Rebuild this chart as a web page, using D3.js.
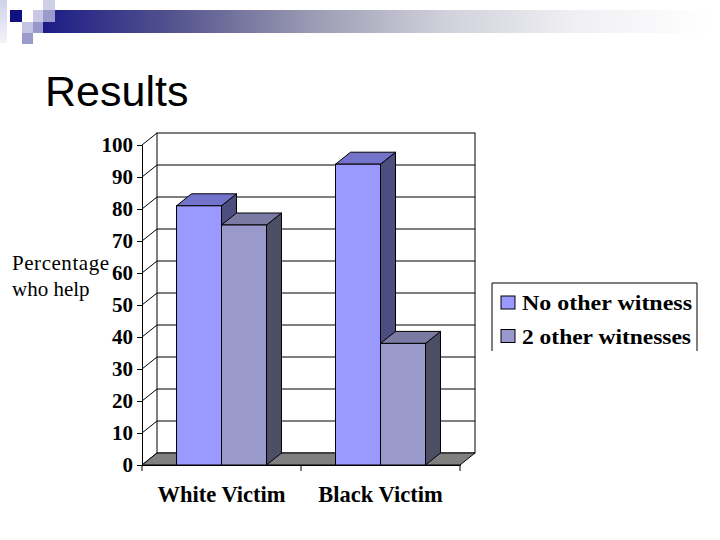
<!DOCTYPE html>
<html>
<head>
<meta charset="utf-8">
<script src="https://cdn.jsdelivr.net/npm/d3@7"></script>
<style>
  html, body { margin: 0; padding: 0; background: #fff; }
  svg { display: block; }
</style>
</head>
<body>
<svg id="chart" width="720" height="540"></svg>
<script>
// ---- data ----
const categories = ["White Victim", "Black Victim"];
const seriesNames = ["No other witness", "2 other witnesses"];
const noOtherWitness = [81, 94];
const twoOtherWitnesses = [75, 38];
const yTicks = [0, 10, 20, 30, 40, 50, 60, 70, 80, 90, 100];
const seriesValues = [noOtherWitness, twoOtherWitnesses];

// ---- styles ----
const frontColors = ["#9999FF", "#9999CC"];
const topColors = ["#7373CC", "#7A7AA3"];
const sideColors = ["#4D4D80", "#4D4D66"];
const serif = "'Liberation Serif', 'Times New Roman', serif";

const svg = d3.select("#chart");

// ---- header decoration ----
const defs = svg.append("defs");
const grad = defs.append("linearGradient").attr("id", "hdr").attr("x1", "0%").attr("x2", "100%");
[[0, "#1c1c86"], [0.2, "#55558f"], [0.4, "#9a9ab3"], [0.6, "#d0d0db"], [0.8, "#f0f0f4"], [1, "#ffffff"]]
  .forEach(([o, c]) => grad.append("stop").attr("offset", o).attr("stop-color", c));
svg.append("rect").attr("x", 43).attr("y", 10).attr("width", 668).attr("height", 23).attr("fill", "url(#hdr)");
const vgrad = defs.append("linearGradient").attr("id", "vfade").attr("x1", "0").attr("x2", "0").attr("y1", "0").attr("y2", "1");
vgrad.append("stop").attr("offset", 0).attr("stop-color", "#d0d0ec");
vgrad.append("stop").attr("offset", 1).attr("stop-color", "#f4f4fa");
svg.append("rect").attr("x", 0).attr("y", 0).attr("width", 7).attr("height", 43).attr("fill", "url(#vfade)");
[
  [10, 10, 12, 12, "#10107f"],
  [33, 10, 10, 12, "#c8c8e6"],
  [43, 0, 12, 10, "#cfcfe8"],
  [43, 10, 12, 12, "#9a9acc"],
  [22, 22, 11, 11, "#c4c4e4"],
  [33, 22, 10, 11, "#9898cc"],
  [22, 33, 11, 11, "#9a9acc"]
].forEach(([x, y, w, h, c]) => svg.append("rect").attr("x", x).attr("y", y).attr("width", w).attr("height", h).attr("fill", c));

// ---- title ----
svg.append("text").attr("x", 45).attr("y", 106)
  .attr("font-family", "'Liberation Sans', Arial, sans-serif").attr("font-size", 43)
  .attr("fill", "#000").text("Results");

// ---- scales ----
const left = 142, right = 460, base = 465, topY = 145;
const dx = 15, dy = -12;
const y = d3.scaleLinear().domain([0, 100]).range([base, topY]);
const x0 = d3.scaleBand().domain(categories).range([left, right]).paddingInner(0).paddingOuter(0);
const bw = x0.bandwidth();
const x1 = d3.scaleBand().domain(seriesNames).range([bw * 0.217, bw * 0.783]).padding(0);

const g = svg.append("g");

// back wall
g.append("rect").attr("x", left + dx).attr("y", y(100) + dy)
  .attr("width", right - left).attr("height", y(0) - y(100))
  .attr("fill", "#fff").attr("stroke", "#000").attr("stroke-width", 1);

// gridlines on back wall + side wall diagonals
yTicks.forEach(t => {
  if (t > 0 && t < 100) {
    g.append("line").attr("x1", left + dx).attr("x2", right + dx)
      .attr("y1", y(t) + dy).attr("y2", y(t) + dy).attr("stroke", "#000").attr("stroke-width", 1.2);
  }
  g.append("line").attr("x1", left).attr("x2", left + dx)
    .attr("y1", y(t)).attr("y2", y(t) + dy).attr("stroke", "#000").attr("stroke-width", 1);
});

// floor
g.append("path")
  .attr("d", `M${left},${base}L${right},${base}L${right + dx},${base + dy}L${left + dx},${base + dy}Z`)
  .attr("fill", "#808080").attr("stroke", "#000").attr("stroke-width", 1);

// left axis
const yAxis = d3.axisLeft(y).tickValues(yTicks).tickSize(5).tickPadding(4).tickFormat(d3.format("d"));
const ya = svg.append("g").attr("transform", `translate(${left},0)`).call(yAxis);
ya.select(".domain").attr("stroke", "#000");
ya.selectAll(".tick line").attr("stroke", "#000");
ya.selectAll(".tick text").attr("font-family", serif).attr("font-weight", "bold")
  .attr("font-size", 21).attr("fill", "#000");

// bottom axis
const xa = svg.append("g").attr("transform", `translate(0,${base})`)
  .call(d3.axisBottom(x0).tickSize(0).tickPadding(21));
xa.select(".domain").attr("stroke", "#000");
xa.selectAll(".tick text").attr("font-family", serif).attr("font-weight", "bold")
  .attr("font-size", 22.5).attr("fill", "#000");
[left, left + bw, right].forEach(px => {
  svg.append("line").attr("x1", px).attr("x2", px).attr("y1", base).attr("y2", base + 6)
    .attr("stroke", "#000");
});

// bars
const bars = g.append("g");
categories.forEach((cat, ci) => {
  seriesNames.forEach((s, si) => {
    const v = seriesValues[si][ci];
    const xl = x0(cat) + x1(s), xr = xl + x1.bandwidth();
    const yt = y(v);
    // side
    bars.append("path")
      .attr("d", `M${xr},${base}L${xr + dx},${base + dy}L${xr + dx},${yt + dy}L${xr},${yt}Z`)
      .attr("fill", sideColors[si]).attr("stroke", "#000").attr("stroke-width", 1);
    // top
    bars.append("path")
      .attr("d", `M${xl},${yt}L${xr},${yt}L${xr + dx},${yt + dy}L${xl + dx},${yt + dy}Z`)
      .attr("fill", topColors[si]).attr("stroke", "#000").attr("stroke-width", 1);
    // front
    bars.append("rect").attr("x", xl).attr("y", yt).attr("width", xr - xl).attr("height", base - yt)
      .attr("fill", frontColors[si]).attr("stroke", "#000").attr("stroke-width", 1);
  });
});

// y label
const yl = svg.append("text").attr("font-family", serif).attr("font-size", 21).attr("fill", "#000");
yl.append("tspan").attr("x", 12).attr("y", 270).attr("textLength", 97).text("Percentage");
yl.append("tspan").attr("x", 12).attr("y", 296).text("who help");

// legend
const lg = svg.append("g");
lg.append("path").attr("d", "M492,351L492,283L697,283L697,351")
  .attr("fill", "#fff").attr("stroke", "#000").attr("stroke-width", 1);
seriesNames.forEach((s, i) => {
  const yy = 296 + i * 33.5;
  lg.append("rect").attr("x", 501).attr("y", yy).attr("width", 14).attr("height", 13)
    .attr("fill", frontColors[i]).attr("stroke", "#000").attr("stroke-width", 1);
  lg.append("text").attr("x", 522).attr("y", yy + 14)
    .attr("font-family", serif).attr("font-weight", "bold").attr("font-size", 22)
    .attr("textLength", i === 0 ? 170 : 169).attr("lengthAdjust", "spacingAndGlyphs")
    .attr("fill", "#000").text(s);
});
</script>
</body>
</html>
